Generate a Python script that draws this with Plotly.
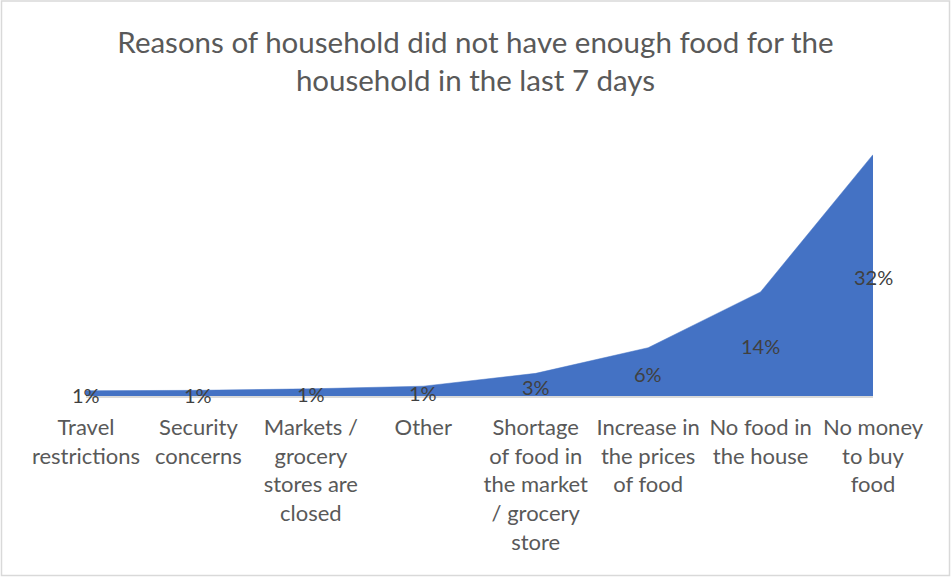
import plotly.graph_objects as go

# Reasons households gave for not having enough food (share of households, %)
categories = [
    "Travel restrictions",
    "Security concerns",
    "Markets / grocery stores are closed",
    "Other",
    "Shortage of food in the market / grocery store",
    "Increase in the prices of food",
    "No food in the house",
    "No money to buy food",
]
tick_labels = [
    "Travel<br>restrictions",
    "Security<br>concerns",
    "Markets /<br>grocery<br>stores are<br>closed",
    "Other",
    "Shortage<br>of food in<br>the market<br>/ grocery<br>store",
    "Increase in<br>the prices<br>of food",
    "No food in<br>the house",
    "No money<br>to buy<br>food",
]
values = [0.7, 0.75, 0.95, 1.3, 3.0, 6.4, 13.8, 32.0]

W, H = 951, 577
ML, MR, MT, MB = 86, 78, 132, 181
PW, PH = W - ML - MR, H - MT - MB

FONT = "Lato, 'Open Sans', sans-serif"

fig = go.Figure()

# filled area
fig.add_trace(go.Scatter(
    x=categories,
    y=values,
    mode="lines",
    fill="tozeroy",
    fillcolor="#4472C4",
    line=dict(color="#4472C4", width=0.5),
    hoverinfo="skip",
    showlegend=False,
))

# data labels placed halfway up each value
for cat, v in zip(categories, values):
    fig.add_annotation(
        x=cat,
        y=v / 2,
        xref="x",
        yref="y",
        text=f"{v:.0f}%",
        showarrow=False,
        xanchor="center",
        yanchor="middle",
        yshift=-2,
        font=dict(family=FONT, size=20, color="#404040"),
    )


def px_to_paper_x(p):
    return (p - ML) / PW


def px_to_paper_y(p):
    return (H - MB - p) / PH


fig.update_layout(
    width=W,
    height=H,
    margin=dict(l=ML, r=MR, t=MT, b=MB, pad=0),
    paper_bgcolor="white",
    plot_bgcolor="white",
    font=dict(family=FONT, color="#595959"),
    title=dict(
        text="Reasons of household did not have enough food for the<br>household in the last 7 days",
        x=0.5,
        xanchor="center",
        y=1 - 53 / H,
        yanchor="top",
        font=dict(family=FONT, size=29.5, color="#595959"),
    ),
    xaxis=dict(
        type="category",
        categoryorder="array",
        categoryarray=categories,
        tickvals=categories,
        ticktext=tick_labels,
        range=[0, 7],
        showgrid=False,
        zeroline=False,
        showline=True,
        linecolor="#D9D9D9",
        linewidth=1.5,
        ticks="",
        ticklabelstandoff=11,
        tickfont=dict(family=FONT, size=22, color="#595959"),
    ),
    yaxis=dict(
        range=[0, 35],
        visible=False,
        showgrid=False,
        zeroline=False,
    ),
    shapes=[dict(
        type="rect",
        xref="paper",
        yref="paper",
        x0=px_to_paper_x(1.5),
        x1=px_to_paper_x(W - 1.5),
        y0=px_to_paper_y(H - 1.5),
        y1=px_to_paper_y(1),
        line=dict(color="#D9D9D9", width=1.5),
        fillcolor="rgba(0,0,0,0)",
        layer="below",
    )],
)

fig.write_html("out.html")
